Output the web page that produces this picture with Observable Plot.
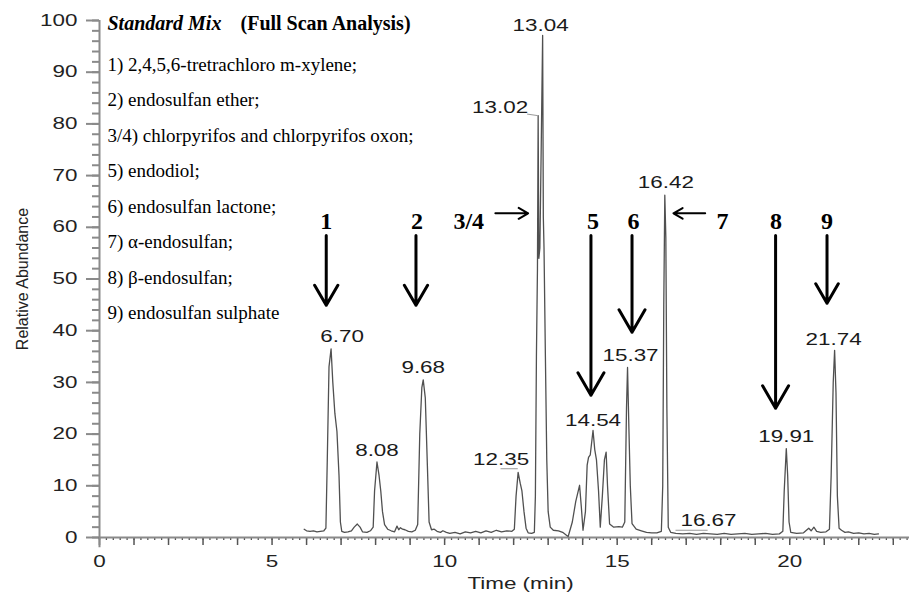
<!DOCTYPE html>
<html><head><meta charset="utf-8">
<script src="https://cdn.jsdelivr.net/npm/d3@7"></script>
<script src="https://cdn.jsdelivr.net/npm/@observablehq/plot@0.6"></script>
<style>
html,body{margin:0;padding:0;background:#fff;overflow:hidden}
</style></head><body><div id="chart"></div>
<script>
// Chromatogram trace: [time (min), relative abundance]
const chromatogram = [
[5.93,1.6],[6.00,1.3],[6.10,1.2],[6.20,1.3],[6.30,1.1],[6.40,1.2],[6.50,1.3],[6.56,1.8],
[6.60,15],[6.65,33],[6.71,36.5],[6.76,30],[6.82,24],[6.88,20.5],[6.94,12],[6.98,3],[7.02,1.2],
[7.10,1.0],[7.20,1.1],[7.30,1.3],[7.38,2.0],[7.47,2.6],[7.55,2.0],[7.62,1.1],[7.75,1.0],[7.85,1.3],[7.93,2.0],
[7.97,9],[8.04,14.6],[8.10,12],[8.15,9],[8.20,5],[8.26,2.5],[8.35,1.6],[8.45,1.3],[8.55,1.1],[8.62,2.2],[8.67,1.5],[8.72,1.9],[8.78,1.6],[8.85,1.5],[8.95,1.2],[9.05,1.1],[9.15,1.4],[9.22,2.5],
[9.28,20],[9.34,29],[9.38,30.5],[9.44,27],[9.50,14],[9.55,3],[9.62,1.5],[9.70,1.6],[9.78,1.2],[9.88,1.0],[9.95,1.3],[10.05,1.0],[10.15,0.8],[10.30,1.0],[10.45,0.7],[10.60,1.1],[10.75,0.9],[10.90,1.2],[11.05,0.9],[11.20,1.3],[11.35,1.0],[11.50,1.4],[11.65,1.1],[11.80,1.3],[11.95,1.2],[12.02,1.6],
[12.07,8],[12.13,12.6],[12.19,10.5],[12.24,9],[12.30,5],[12.36,1.8],[12.42,0.9],[12.52,0.8],[12.60,1.0],
[12.63,8],[12.66,35],[12.69,52],[12.71,81.6],[12.73,54],[12.76,56],[12.80,76],[12.84,97.1],[12.86,62],[12.88,56],[12.92,35],[12.96,15],[13.00,5],[13.06,2.0],[13.15,1.4],[13.30,1.3],[13.42,1.0],[13.52,0.5],[13.58,0.2],
[13.70,3],[13.80,7],[13.91,10.1],[13.96,6],[14.01,1.4],[14.08,5],[14.13,14],[14.17,15.5],[14.22,16],[14.30,20.7],[14.35,17],[14.40,15],[14.46,9],[14.51,2],[14.57,8],[14.63,15],[14.68,16.5],[14.72,10],[14.78,2.6],[14.90,2.0],[15.05,2.1],[15.15,2.0],[15.22,3],
[15.27,25],[15.30,32.9],[15.34,21],[15.38,10],[15.43,2.7],[15.55,1.6],[15.70,1.3],[15.85,1.0],[16.00,0.9],[16.15,0.9],[16.28,1.2],
[16.32,10],[16.35,45],[16.38,66.2],[16.41,58],[16.44,25],[16.48,2],[16.55,1.0],[16.70,0.8],[16.90,0.7],[17.10,0.8],[17.30,0.6],[17.50,0.8],[17.70,0.7],[17.90,0.6],[18.10,0.8],[18.30,0.6],[18.50,0.7],[18.70,0.8],[18.90,0.6],[19.10,0.7],[19.30,0.8],[19.50,0.6],[19.70,0.7],[19.80,1.2],
[19.84,9],[19.90,17.2],[19.94,12],[19.98,3],[20.03,1.0],[20.20,0.8],[20.40,0.9],[20.55,1.8],[20.62,1.3],[20.70,2.0],[20.78,1.2],[20.90,1.0],[21.05,1.1],[21.15,1.6],
[21.20,12],[21.26,30],[21.30,36.2],[21.34,28],[21.38,8],[21.43,1.8],[21.50,1.4],[21.60,1.0],[21.70,1.1],[21.85,0.8],[22.00,0.9],[22.15,0.7],[22.30,0.8],[22.45,0.6],[22.57,0.7]
];

// Peak apexes and their retention-time labels
const peakTimes  = [6.71, 8.04, 9.38, 12.13, 12.71, 12.84, 14.30, 15.30, 16.38, 16.69, 19.90, 21.30];
const peakAbund  = [36.5, 14.6, 30.5, 12.6, 81.6, 97.1, 20.7, 32.9, 66.2, 1.4, 17.2, 36.2];
const peakLabels = ["6.70","8.08","9.68","12.35","13.02","13.04","14.54","15.37","16.42","16.67","19.91","21.74"];

// Compound markers
const compoundIds   = ["1","2","3/4","5","6","7","8","9"];
const compoundTimes = [6.57, 9.20, 10.70, 14.30, 15.47, 18.05, 19.60, 21.08];
const markerLevel = 61.1;

// Vertical arrows (down) for compounds 1,2,5,6,8,9
const downArrowTimes = [6.57, 9.17, 14.24, 15.43, 19.59, 21.08];
const downArrowTips  = [44.9, 44.9, 27.5, 39.7, 25.0, 45.3];
const downArrowStart = 58.4;
// Horizontal arrows for 3/4 and 7
const sideArrowFrom = [11.47, 17.55];
const sideArrowTo   = [12.42, 16.63];
const sideArrowLevel = 62.7;

const legendLines = [
  "1) 2,4,5,6-tretrachloro m-xylene;",
  "2) endosulfan ether;",
  "3/4) chlorpyrifos and chlorpyrifos oxon;",
  "5) endodiol;",
  "6) endosulfan lactone;",
  "7) α-endosulfan;",
  "8) β-endosulfan;",
  "9) endosulfan sulphate"
];
const titleItalic = "Standard Mix";
const titleBold = "(Full Scan Analysis)";
const yTitle = "Relative Abundance";
const xTitle = "Time (min)";
const yTickValues = [0,10,20,30,40,50,60,70,80,90,100];
const xTickValues = [0,5,10,15,20];

// ---- build tables
const trace = chromatogram.map(([t, v]) => ({t, v}));
const peaks = peakTimes.map((t, i) => ({t, v: peakAbund[i], label: peakLabels[i]}));
const markers = compoundIds.map((id, i) => ({id, t: compoundTimes[i], v: markerLevel}));
const downArrows = downArrowTimes.map((t, i) => ({t, from: downArrowStart, to: downArrowTips[i]}));
const sideArrows = sideArrowFrom.map((f, i) => ({from: f, to: sideArrowTo[i], v: sideArrowLevel}));

const XMAX = 23.47;
const SANS = "Liberation Sans";
const SERIF = "Liberation Serif";

const labelOffsets = {
  "6.70": [11, -12], "8.08": [0, -11], "9.68": [0, -12], "12.35": [-17, -12],
  "13.02": [-38, -8], "13.04": [-2, -10], "14.54": [0, -10], "15.37": [3, -12],
  "16.42": [1, -12], "16.67": [33, -9], "19.91": [0, -12], "21.74": [-1, -10]
};
const leaders = [
  {x1: 11.62, x2: 12.12, y1: 13.3, y2: 13.3},
  {x1: 12.39, x2: 12.70, y1: 81.9, y2: 81.6},
  {x1: 16.69, x2: 17.62, y1: 1.4, y2: 1.4}
];

const chart = Plot.plot({
  width: 909, height: 595,
  marginLeft: 99, marginRight: 0, marginTop: 20, marginBottom: 58,
  x: {domain: [0, XMAX], label: null},
  y: {domain: [0, 100], label: null},
  style: {fontFamily: SANS, fontSize: "16px", color: "#222", background: "#fff"},
  marks: [
    // y axis
    Plot.axisY(d3.range(0, 101, 2), {tickSize: 7, stroke: "#8a8a8a", strokeWidth: 2, tickFormat: () => ""}),
    Plot.axisY(yTickValues, {tickSize: 13, tickPadding: 9, stroke: "#8a8a8a", strokeWidth: 2, fill: "#222", fontSize: 16, fontFamily: SANS}),
    // x axis
    Plot.axisX(d3.range(0, XMAX, 0.2).map(d => +d.toFixed(1)), {tickSize: 3, stroke: "#555", strokeWidth: 1.3, tickFormat: () => ""}),
    Plot.axisX(d3.range(0, 24, 1), {tickSize: 8, stroke: "#555", strokeWidth: 1.5, tickFormat: () => ""}),
    Plot.axisX(xTickValues, {tickSize: 0, tickPadding: 18, fill: "#222", fontSize: 16, fontFamily: SANS}),
    Plot.ruleX([0], {y1: -2, y2: 100, stroke: "#8a8a8a", strokeWidth: 2}),
    Plot.ruleY([0], {x1: 0, x2: XMAX, stroke: "#8a8a8a", strokeWidth: 2}),
    // trace
    Plot.line(trace, {x: "t", y: "v", stroke: "#505050", strokeWidth: 1.3}),
    // leaders
    Plot.link(leaders, {x1: "x1", x2: "x2", y1: "y1", y2: "y2", stroke: "#999", strokeWidth: 1}),
    // peak labels
    ...peaks.map(p => Plot.text([p], {x: "t", y: "v", text: "label", dx: labelOffsets[p.label][0], dy: labelOffsets[p.label][1], fontSize: 16, fontFamily: SANS, fill: "#1a1a1a"})),
    // arrows
    Plot.arrow(downArrows, {x1: "t", x2: "t", y1: "from", y2: "to", stroke: "#000", strokeWidth: 3, headLength: 13, headAngle: 60}),
    Plot.arrow(sideArrows, {x1: "from", x2: "to", y1: "v", y2: "v", stroke: "#000", strokeWidth: 2, headLength: 10, headAngle: 60}),
    // compound numbers
    Plot.text(markers, {x: "t", y: "v", text: "id", fontSize: 24, fontWeight: "bold", fontFamily: SERIF, fill: "#000"}),
    // title
    Plot.text([titleItalic], {frameAnchor: "top-left", dx: 8, dy: 3, lineAnchor: "middle", textAnchor: "start", fontSize: 20, fontWeight: "bold", fontStyle: "italic", fontFamily: SERIF, fill: "#000"}),
    Plot.text([titleBold], {frameAnchor: "top-left", dx: 141, dy: 3, lineAnchor: "middle", textAnchor: "start", fontSize: 20, fontWeight: "bold", fontFamily: SERIF, fill: "#000"}),
    // legend
    Plot.text([legendLines.join("\n")], {frameAnchor: "top-left", dx: 8, dy: 25, lineAnchor: "top", textAnchor: "start", lineHeight: 1.87, fontSize: 19, fontFamily: SERIF, fill: "#000"}),
    // axis titles
    Plot.text([yTitle], {frameAnchor: "left", dx: -77, rotate: -90, textAnchor: "middle", lineAnchor: "middle", fontSize: 16, fontFamily: "Arial", fill: "#222"}),
    Plot.text([xTitle], {frameAnchor: "bottom", dx: 16, dy: 46, textAnchor: "middle", lineAnchor: "middle", fontSize: 16, fontFamily: SANS, fill: "#222"})
  ]
});
document.getElementById("chart").appendChild(chart);

// widen the sans labels to mimic the extended typeface of the original
const STRETCH = 1.4;
chart.querySelectorAll("text").forEach(el => {
  if (!/Liberation Sans/.test(getComputedStyle(el).fontFamily)) return;
  if (!el.textContent) return;
  const w = el.getComputedTextLength();
  if (w > 0) {
    el.setAttribute("textLength", (w * STRETCH).toFixed(1));
    el.setAttribute("lengthAdjust", "spacingAndGlyphs");
  }
});
</script></body></html>
